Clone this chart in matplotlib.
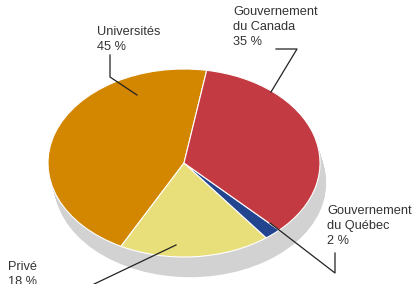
import matplotlib
matplotlib.use("Agg")
import matplotlib.pyplot as plt
from matplotlib.patches import Ellipse

# data
labels = ["Universités", "Privé", "Gouvernement\ndu Québec", "Gouvernement\ndu Canada"]
shares = [45, 18, 2, 35]
colors = ["#D38600", "#E8DE7A", "#23448E", "#C43A42"]

plt.rcParams['font.family'] = ['Liberation Sans', 'DejaVu Sans']

fig = plt.figure(figsize=(4.14, 2.84), dpi=100)

# pie axes, squashed to an ellipse (pixel box 48..320 x 69..257)
W, H = 414, 284
ax = fig.add_axes([48 / W, (H - 257) / H, 272 / W, 188 / H])
ax.set_xlim(-1, 1)
ax.set_ylim(-1, 1)

# grey base (3d depth)
n = 24
for i in range(n + 1):
    dx = 0.045 * i / n
    dy = -0.215 * i / n
    ax.add_patch(Ellipse((dx, dy), 2, 2, facecolor="#D2D2D2", edgecolor="none",
                         zorder=1, clip_on=False))

wedges, _ = ax.pie(shares, colors=colors, startangle=80.4, counterclock=True,
                   radius=1, wedgeprops=dict(edgecolor="white", linewidth=0.8))
for w in wedges:
    w.set_zorder(2)
    w.set_clip_on(False)
ax.set_aspect('auto')
ax.set_xlim(-1, 1)
ax.set_ylim(-1, 1)
ax.axis('off')

# overlay in pixel coords for labels and leaders
ov = fig.add_axes([0, 0, 1, 1])
ov.set_xlim(0, W)
ov.set_ylim(H, 0)
ov.axis('off')

tc = "#333333"
fs = 9.2
ls = 1.32
ov.text(97, 26, "Universités\n45 %", fontsize=fs, color=tc, va='top', ha='left', linespacing=ls)
ov.text(233, 6, labels[3] + "\n35 %", fontsize=fs, color=tc, va='top', ha='left', linespacing=ls)
ov.text(327, 205, labels[2] + "\n2 %", fontsize=fs, color=tc, va='top', ha='left', linespacing=ls)
ov.text(8, 261, "Privé\n18 %", fontsize=fs, color=tc, va='top', ha='left', linespacing=ls)

lk = dict(color="#222222", linewidth=0.9, zorder=5)
ov.plot([110, 110, 137], [55, 77, 95], **lk)
ov.plot([276, 297, 271], [49, 49, 92], **lk)
ov.plot([270, 335, 335], [223, 273, 253], **lk)
ov.plot([176, 90], [245, 286], clip_on=False, **lk)

fig.savefig("out.png", dpi=100)
